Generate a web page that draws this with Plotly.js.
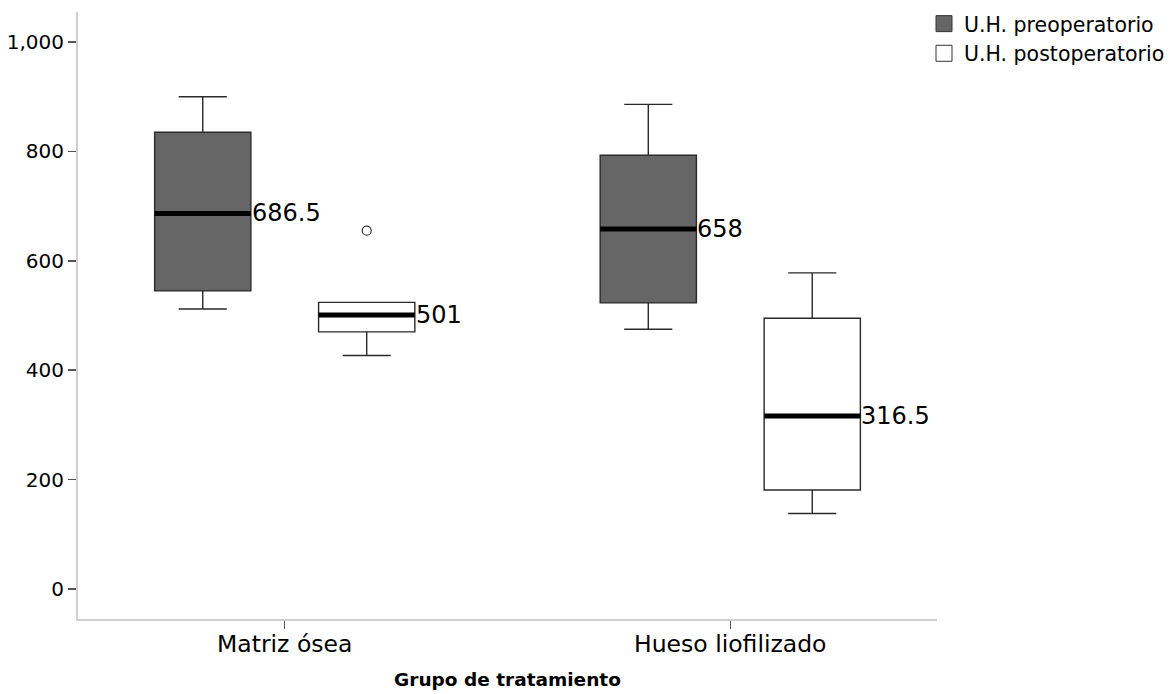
<!DOCTYPE html>
<html><head><meta charset="utf-8">
<script src="https://cdn.plot.ly/plotly-3.0.1.min.js"></script>
<style>html,body{margin:0;padding:0;background:#fff}#chart{width:1174px;height:694px}</style>
</head><body><div id="chart"></div>
<script>
// ---- data ----
const categories = ['Matriz ósea', 'Hueso liofilizado'];
const seriesNames = ['U.H. preoperatorio', 'U.H. postoperatorio'];
// U.H. preoperatorio
const preLowerWhisker = [512, 475];
const preQ1 = [545, 523];
const preMedian = [686.5, 658];
const preQ3 = [835, 793];
const preUpperWhisker = [900, 886];
// U.H. postoperatorio
const postLowerWhisker = [427, 138];
const postQ1 = [470, 181];
const postMedian = [501, 316.5];
const postQ3 = [524, 495];
const postUpperWhisker = [524, 578];
// outliers (postoperatorio)
const outlierCategory = ['Matriz ósea'];
const outlierValue = [655];
const yTickValues = [0, 200, 400, 600, 800, 1000];
const xAxisTitle = 'Grupo de tratamiento';

// ---- styling / layout ----
const BOXGAP = 0.264, BOXGROUPGAP = 0.413;
const slot = 0.5 * (1 - BOXGAP) / 2;          // offset of each group's box from category centre
const halfW = slot * (1 - BOXGROUPGAP);        // half width of a box
const catIndex = categories.map((c, i) => i);
const FONT = 'DejaVu Sans, Verdana, sans-serif';
const boxLine = {color: '#2a2a2a', width: 1.4};
const preFill = '#666666', postFill = '#ffffff';

function statBox(name, group, lf, q1, med, q3, uf, fill, line) {
  return {type: 'box', name: name, x: catIndex, lowerfence: lf, q1: q1, median: med, q3: q3, upperfence: uf,
          offsetgroup: group, legendgroup: group, showlegend: false, boxpoints: false,
          fillcolor: fill, line: line, whiskerwidth: 0.5, hoverinfo: 'y'};
}

const traces = [
  statBox(seriesNames[0], 'pre', preLowerWhisker, preQ1, preMedian, preQ3, preUpperWhisker, preFill, boxLine),
  statBox(seriesNames[0], 'pre', preMedian, preMedian, preMedian, preMedian, preMedian, 'rgba(0,0,0,0)', {color: '#000', width: 5}),
  statBox(seriesNames[1], 'post', postLowerWhisker, postQ1, postMedian, postQ3, postUpperWhisker, postFill, boxLine),
  statBox(seriesNames[1], 'post', postMedian, postMedian, postMedian, postMedian, postMedian, 'rgba(0,0,0,0)', {color: '#000', width: 5}),
  {type: 'scatter', mode: 'markers', name: seriesNames[1], legendgroup: 'post', showlegend: false,
   x: outlierCategory.map(c => categories.indexOf(c) + slot), y: outlierValue,
   marker: {symbol: 'circle-open', size: 9, color: '#333', line: {width: 1.2, color: '#333'}}},
  // legend entries
  {type: 'scatter', mode: 'markers', name: seriesNames[0], legendgroup: 'pre', x: [null], y: [null],
   marker: {symbol: 'square', size: 16, color: preFill, line: {color: '#333', width: 1}}},
  {type: 'scatter', mode: 'markers', name: seriesNames[1], legendgroup: 'post', x: [null], y: [null],
   marker: {symbol: 'square', size: 16, color: postFill, line: {color: '#333', width: 1}}}
];

const annotations = [];
catIndex.forEach(i => {
  annotations.push({x: i - slot + halfW, y: preMedian[i], xref: 'x', yref: 'y', text: String(preMedian[i]),
    showarrow: false, xanchor: 'left', yanchor: 'middle', xshift: -1, font: {size: 24, family: FONT, color: '#000'}});
  annotations.push({x: i + slot + halfW, y: postMedian[i], xref: 'x', yref: 'y', text: String(postMedian[i]),
    showarrow: false, xanchor: 'left', yanchor: 'middle', xshift: -1, font: {size: 24, family: FONT, color: '#000'}});
});

const layout = {
  width: 1174, height: 694,
  margin: {l: 78, r: 237, t: 12, b: 75, autoexpand: false},
  paper_bgcolor: '#fff', plot_bgcolor: '#fff',
  font: {family: FONT, color: '#000'},
  boxmode: 'group', boxgap: BOXGAP, boxgroupgap: BOXGROUPGAP,
  showlegend: true,
  legend: {x: (924 - 78) / 859, xanchor: 'left', y: 1.0135, yanchor: 'top', font: {size: 20.5, family: FONT, color: '#000'},
           bgcolor: 'rgba(0,0,0,0)', tracegroupgap: 0, itemwidth: 30},
  xaxis: {range: [-0.464, 1.464], tickvals: catIndex, ticktext: categories, showline: true, linecolor: '#cfcfcf', linewidth: 2,
          ticks: 'outside', ticklen: 8, tickcolor: '#555', tickwidth: 1.5, tickfont: {size: 23.5}, showgrid: false, zeroline: false,
          ticklabelstandoff: -5, fixedrange: true,
          title: {text: xAxisTitle, font: {size: 18.5, weight: 'bold', color: '#000'}, standoff: 16}},
  yaxis: {range: [-54.8, 1054.8], tickvals: yTickValues, tickformat: ',', showline: true, linecolor: '#cfcfcf', linewidth: 2,
          ticks: 'outside', ticklen: 8, tickcolor: '#555', tickwidth: 1.5, tickfont: {size: 20}, showgrid: false, zeroline: false,
          fixedrange: true},
  annotations: annotations
};

Plotly.newPlot('chart', traces, layout, {displayModeBar: false, staticPlot: true});
</script>
</body></html>
